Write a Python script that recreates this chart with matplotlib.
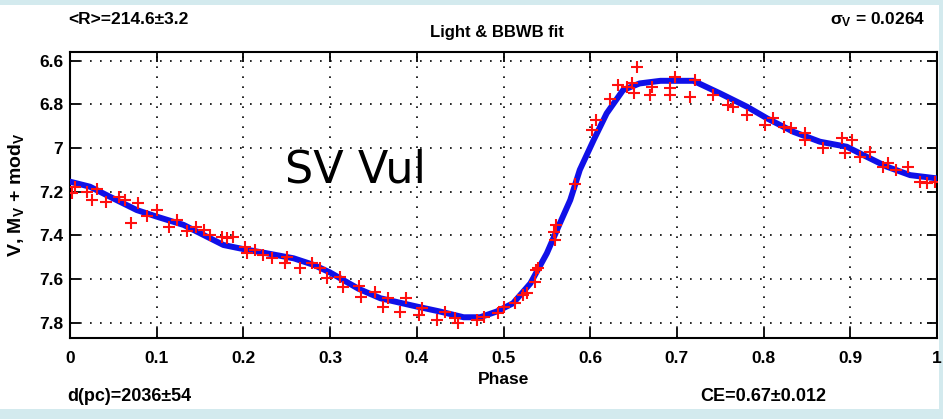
import matplotlib
matplotlib.use('Agg')
import matplotlib.pyplot as plt
from matplotlib.patches import Rectangle

# observed points (phase, magnitude)
obs_phase = [0.002, 0.006, 0.02, 0.025, 0.031, 0.041, 0.056, 0.064, 0.07, 0.079,
             0.089, 0.1, 0.114, 0.123, 0.135, 0.145, 0.154, 0.161, 0.175, 0.181,
             0.188, 0.202, 0.204, 0.213, 0.223, 0.233, 0.248, 0.25, 0.265, 0.279,
             0.288, 0.296, 0.311, 0.315, 0.333, 0.336, 0.352, 0.361, 0.367, 0.381,
             0.388, 0.402, 0.406, 0.423, 0.433, 0.444, 0.448, 0.469, 0.477, 0.494,
             0.5, 0.513, 0.523, 0.527, 0.536, 0.537, 0.54, 0.559, 0.561, 0.558,
             0.582, 0.602, 0.607, 0.623, 0.632, 0.642, 0.648, 0.65, 0.654, 0.669,
             0.671, 0.692, 0.692, 0.698, 0.715, 0.721, 0.742, 0.759, 0.765, 0.781,
             0.802, 0.811, 0.823, 0.832, 0.848, 0.848, 0.869, 0.89, 0.894, 0.902,
             0.911, 0.923, 0.938, 0.944, 0.953, 0.967, 0.98, 0.988, 0.998]
obs_mag = [7.205, 7.177, 7.2, 7.238, 7.188, 7.246, 7.223, 7.238, 7.345, 7.253,
           7.31, 7.284, 7.36, 7.33, 7.38, 7.36, 7.375, 7.398, 7.406, 7.413,
           7.406, 7.452, 7.482, 7.467, 7.49, 7.505, 7.528, 7.497, 7.55, 7.528,
           7.55, 7.596, 7.589, 7.635, 7.63, 7.68, 7.658, 7.726, 7.688, 7.749,
           7.688, 7.764, 7.734, 7.787, 7.749, 7.779, 7.802, 7.787, 7.772, 7.757,
           7.726, 7.711, 7.673, 7.665, 7.612, 7.558, 7.551, 7.421, 7.352, 7.383,
           7.165, 6.918, 6.872, 6.777, 6.712, 6.719, 6.704, 6.75, 6.628, 6.757,
           6.719, 6.727, 6.757, 6.674, 6.765, 6.689, 6.757, 6.803, 6.811, 6.849,
           6.895, 6.864, 6.902, 6.91, 6.933, 6.963, 7.001, 6.956, 7.024, 6.963,
           7.04, 7.017, 7.085, 7.07, 7.101, 7.085, 7.154, 7.162, 7.154]

# fitted light curve
fit_phase = [0.0, 0.023, 0.046, 0.077, 0.1, 0.131, 0.154, 0.177, 0.199, 0.227,
             0.258, 0.281, 0.3, 0.333, 0.358, 0.4, 0.427, 0.454, 0.473, 0.492,
             0.511, 0.531, 0.55, 0.565, 0.577, 0.588, 0.604, 0.619, 0.638, 0.657,
             0.681, 0.719, 0.75, 0.781, 0.804, 0.834, 0.865, 0.896, 0.919, 0.942,
             0.969, 1.0]
fit_mag = [7.154, 7.177, 7.223, 7.284, 7.314, 7.352, 7.398, 7.444, 7.462, 7.482,
           7.505, 7.535, 7.57, 7.645, 7.688, 7.726, 7.749, 7.775, 7.775, 7.749,
           7.711, 7.62, 7.482, 7.345, 7.238, 7.1, 6.963, 6.841, 6.734, 6.704,
           6.692, 6.692, 6.75, 6.811, 6.864, 6.925, 6.971, 6.994, 7.04, 7.085,
           7.124, 7.139]

xticks = [0, 0.1, 0.2, 0.3, 0.4, 0.5, 0.6, 0.7, 0.8, 0.9, 1]
xticklabels = ['0', '0.1', '0.2', '0.3', '0.4', '0.5', '0.6', '0.7', '0.8', '0.9', '1']
yticks = [6.6, 6.8, 7.0, 7.2, 7.4, 7.6, 7.8]
yticklabels = ['6.6', '6.8', '7', '7.2', '7.4', '7.6', '7.8']

plt.rcParams['font.family'] = ['Liberation Sans', 'DejaVu Sans']
plt.rcParams['font.weight'] = 'bold'
plt.rcParams['axes.labelweight'] = 'bold'
plt.rcParams['mathtext.fontset'] = 'custom'
plt.rcParams['mathtext.rm'] = 'Liberation Sans:bold'
plt.rcParams['mathtext.it'] = 'Liberation Sans:bold'

fig = plt.figure(figsize=(9.43, 4.19), dpi=100, facecolor='#d3eaee')
W, H = 943.0, 419.0
fig.patches.append(Rectangle((0, 10 / H), 939 / W, 404 / H, transform=fig.transFigure,
                             facecolor='white', edgecolor='none', zorder=-10))
fig.patches.append(Rectangle((0, 1 - 5 / H), 1, 5 / H, transform=fig.transFigure,
                             facecolor='#d3eaee', edgecolor='none', zorder=-9))

ax = fig.add_axes([70 / W, 1 - 338 / H, 867 / W, 286 / H])
ax.plot(fit_phase, fit_mag, color='#1010e8', lw=4.3, solid_capstyle='round', zorder=3)
ax.plot(obs_phase, obs_mag, '+', color='#ff1010', ms=9, mew=1.5, zorder=4)

ax.set_xlim(0, 1)
ax.set_ylim(7.87, 6.56)
ax.set_xticks(xticks)
ax.set_xticklabels(xticklabels)
ax.set_yticks(yticks)
ax.set_yticklabels(yticklabels)
ax.tick_params(direction='in', length=7, width=1.3, top=True, right=True,
               labelsize=12.5)
ax.tick_params(axis='x', pad=9)
ax.tick_params(axis='y', pad=5)
for s in ax.spines.values():
    s.set_linewidth(1.5)
ax.grid(True, color='black', linestyle=(0, (1, 5)), linewidth=1.2)

ax.set_xlabel('Phase', fontsize=12.5, fontweight='bold', labelpad=5)
ax.set_ylabel(r'V, M$_{\rm V}$ + mod$_{\rm V}$', fontsize=14, fontweight='bold', labelpad=9)

ax.text(0.248, 7.1, 'SV Vul', family='DejaVu Sans', fontweight='normal',
        fontsize=32, va='center', ha='left')

fig.text(68 / W, 1 - 19 / H, '<R>=214.6±3.2', fontsize=12.5, va='center', ha='left')
fig.text(497 / W, 1 - 32 / H, 'Light & BBWB fit', fontsize=12, va='center', ha='center')
fig.text(830 / W, 1 - 20 / H, r'$\sigma_{\rm V}$ = 0.0264', fontsize=12.5, va='center', ha='left')
fig.text(67 / W, 1 - 396 / H, 'd(pc)=2036±54', fontsize=13, va='center', ha='left')
fig.text(700 / W, 1 - 396 / H, 'CE=0.67±0.012', fontsize=13, va='center', ha='left')

fig.savefig('out.png', dpi=100, facecolor=fig.get_facecolor())
